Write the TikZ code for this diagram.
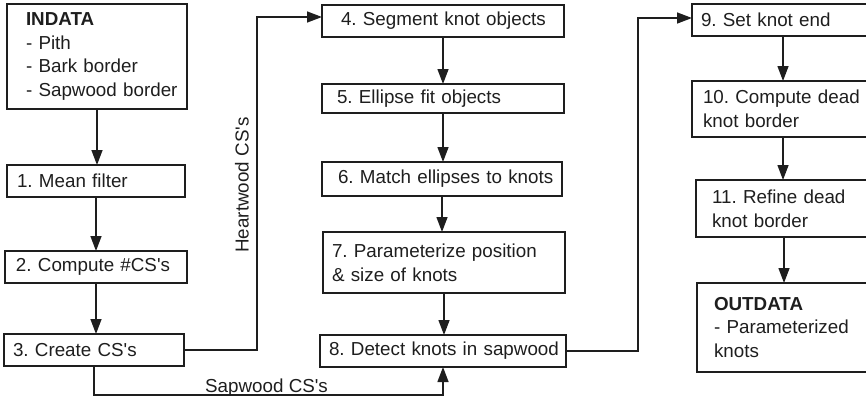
\documentclass[tikz,border=0pt]{standalone}
\usepackage{fontspec}
\setmainfont{Liberation Sans}
\usetikzlibrary{arrows.meta,calc}
\definecolor{ink}{RGB}{30,30,30}
\frenchspacing
\newcommand{\apos}{\textquotesingle}
\begin{document}
\begin{tikzpicture}[x=1pt,y=-1pt,
  every node/.style={text=ink,font=\fontsize{18.8}{23.7}\selectfont},
  stepbox/.style={draw=ink,line width=1.4pt,rectangle,anchor=north west,
    align=left,inner ysep=0pt,outer sep=0pt},
  arr/.style={draw=ink,line width=1.4pt,-{Triangle[width=11pt,length=15pt]}}]
\useasboundingbox (0,0) rectangle (866,400);
% \stepnode{name}{x}{y}{width}{height}{left padding}{text}
\newcommand{\stepnode}[7]{%
  \node[stepbox,minimum height=#5,inner xsep=#6,text width=#4-2*#6] (#1) at (#2,#3) {#7};}
% left column
\stepnode{in}{7}{4}{180}{105}{19}{\mbox{\textbf{INDATA}}\\\mbox{- Pith}\\\mbox{- Bark border}\\\mbox{- Sapwood border}}
\stepnode{b1}{7}{165}{178}{32}{10}{\mbox{1. Mean filter}}
\stepnode{b2}{5}{251}{182}{32}{11}{\mbox{2. Compute \#CS\apos s}}
\stepnode{b3}{4}{334}{180}{32}{9}{\mbox{3. Create CS\apos s}}
% middle column
\stepnode{b4}{322}{5}{242}{32}{19}{\mbox{4. Segment knot objects}}
\stepnode{b5}{322}{84}{242}{29}{15}{\mbox{5. Ellipse fit objects}}
\stepnode{b6}{322}{162}{240}{34}{16}{\mbox{6. Match ellipses to knots}}
\stepnode{b7}{323}{232}{242}{61}{9}{\mbox{7. Parameterize position}\\\mbox{\& size of knots}}
\stepnode{b8}{320}{335}{246}{32}{9}{\mbox{8. Detect knots in sapwood}}
% right column (runs past the page edge)
\stepnode{b9}{692}{4}{220}{32}{9}{\mbox{9. Set knot end}}
\stepnode{b10}{692}{81}{220}{56}{11}{\mbox{10. Compute dead}\\\mbox{knot border}}
\stepnode{b11}{696}{180}{220}{57}{16}{\mbox{11. Refine dead}\\\mbox{knot border}}
\stepnode{out}{697}{283}{220}{89}{17}{\mbox{\textbf{OUTDATA}}\\\mbox{- Parameterized}\\\mbox{knots}}
% bend points of the long connectors
\coordinate (hw) at (257,17);
\coordinate (sw) at (94,395);
\coordinate (dk) at (638,18);
% straight flow
\draw[arr] (in.south) -- (in.south |- b1.north);
\draw[arr] (b1.south) -- (b1.south |- b2.north);
\draw[arr] (b2.south) -- (b2.south |- b3.north);
\draw[arr] (b4.south) -- (b4.south |- b5.north);
\draw[arr] (b5.south) -- (b5.south |- b6.north);
\draw[arr] (b6.south) -- (b6.south |- b7.north);
\draw[arr] (b7.south) -- (b7.south |- b8.north);
\draw[arr] ($(b9.south west)+(91,0)$) -- ($(b10.north west)+(91,0)$);
\draw[arr] ($(b10.south west)+(91,0)$) -- ($(b11.north west)+(87,0)$);
\draw[arr] ($(b11.south west)+(88,0)$) -- ($(out.north west)+(87,0)$);
% branches
\draw[arr] (b3.east) -| (hw) -- (b4.west |- hw);
\draw[arr] (b3.south -| sw) -- (sw) -| (b8.south);
\draw[arr] (b8.east) -| (dk) -- (b9.west |- dk);
% branch labels
\node[rotate=90,inner sep=0pt] (hwl) at (242,185) {Heartwood CS\apos s};
\node[anchor=base west,inner sep=0pt] (swl) at (205,392) {Sapwood CS\apos s};
\end{tikzpicture}
\end{document}
